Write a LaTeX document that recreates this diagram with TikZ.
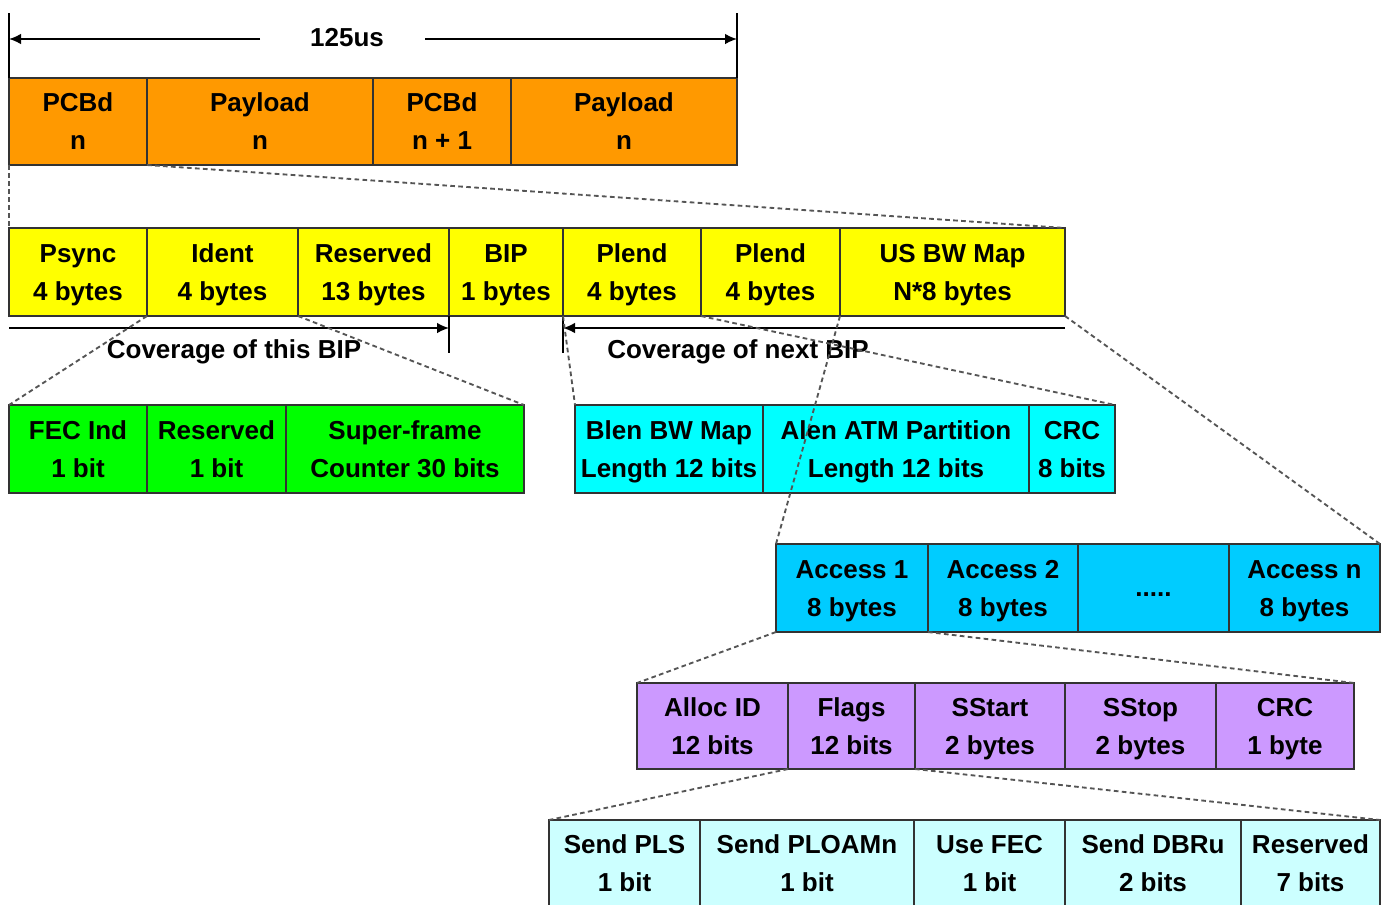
\documentclass[tikz,border=0pt]{standalone}
\usepackage{fontspec}
\setmainfont{Liberation Sans}
\usetikzlibrary{arrows.meta}
\definecolor{corange}{HTML}{FF9900}
\definecolor{cyellow}{HTML}{FFFF00}
\definecolor{cgreen}{HTML}{00FF00}
\definecolor{ccyan}{HTML}{00FFFF}
\definecolor{caccess}{HTML}{00CCFF}
\definecolor{cpurple}{HTML}{CC99FF}
\definecolor{clight}{HTML}{CCFFFF}
\definecolor{cborder}{HTML}{333333}
\definecolor{cdash}{HTML}{555555}
\newcommand\cellbox[7]{\node[cell,fill=#6,minimum width={(#4-#2)*0.75pt},minimum height={(#5-#3)*0.75pt}] (#1) at ({(#2+#4)/2},{(#3+#5)/2}) {#7};}
\tikzset{
  cell/.style={draw=cborder,line width=1.1pt,inner sep=0pt,outer sep=0pt,align=center,
    text height=42.5pt,text depth=0pt,
    font=\fontsize{19.5}{28.5}\selectfont\bfseries},
  zoomline/.style={draw=cdash,line width=1.4pt,dash pattern=on 3.5pt off 2.5pt},
  dim/.style={draw=black,line width=1.3pt},
  dimarrow/.style={dim,-{Latex[length=9pt,width=8pt]}},
  lbl/.style={font=\fontsize{19.5}{24}\selectfont\bfseries,inner sep=0pt}
}
\begin{document}
\begin{tikzpicture}[x=0.75pt,y=-0.75pt]
\useasboundingbox (0,0) rectangle (1383,904);
% row 1
\cellbox{pcbn}{9}{78}{147}{165}{corange}{PCBd\\n}
\cellbox{payn}{147}{78}{373}{165}{corange}{Payload\\n}
\cellbox{pcbm}{373}{78}{511}{165}{corange}{PCBd\\n + 1}
\cellbox{payb}{511}{78}{737}{165}{corange}{Payload\\n}
% 125us
\coordinate (tl) at (9,13);
\coordinate (tr) at (737,13);
\coordinate (al) at (9,39);
\coordinate (ar) at (737,39);
\node[lbl] (t125) at (347,38) {125us};
\draw[dim] (tl) -- (pcbn.north west);
\draw[dim] (tr) -- (payb.north east);
\coordinate (a1s) at (260,39);
\coordinate (a2s) at (425,39);
\draw[dimarrow] (a1s) -- (al);
\draw[dimarrow] (a2s) -- (ar);
% row 2
\cellbox{psync}{9}{228}{147}{316}{cyellow}{Psync\\4 bytes}
\cellbox{ident}{147}{228}{298}{316}{cyellow}{Ident\\4 bytes}
\cellbox{resv}{298}{228}{449}{316}{cyellow}{Reserved\\13 bytes}
\cellbox{bip}{449}{228}{563}{316}{cyellow}{BIP\\1 bytes}
\cellbox{plenda}{563}{228}{701}{316}{cyellow}{Plend\\4 bytes}
\cellbox{plendb}{701}{228}{840}{316}{cyellow}{Plend\\4 bytes}
\cellbox{usbw}{840}{228}{1065}{316}{cyellow}{US BW Map\\N*8 bytes}
\draw[zoomline] (pcbn.south west) -- (psync.north west);
\draw[zoomline] (pcbn.south east) -- (usbw.north east);
% coverage arrows
\coordinate (c1a) at (9,328);
\coordinate (c1b) at (449,328);
\coordinate (c1t) at (449,353);
\coordinate (c2a) at (1065,328);
\coordinate (c2b) at (563,328);
\coordinate (c2t) at (563,353);
\draw[dim] (bip.south west) -- (c1t);
\draw[dim] (bip.south east) -- (c2t);
\draw[dimarrow] (c1a) -- (c1b);
\draw[dimarrow] (c2a) -- (c2b);
\node[lbl] (cov1) at (234,352) {Coverage of this BIP};
\node[lbl] (cov2) at (738,352) {Coverage of next BIP};
% row 3 left
\cellbox{fec}{9}{405}{147}{493}{cgreen}{FEC Ind\\1 bit}
\cellbox{resg}{147}{405}{286}{493}{cgreen}{Reserved\\1 bit}
\cellbox{sfc}{286}{405}{524}{493}{cgreen}{Super-frame\\Counter 30 bits}
\draw[zoomline] (ident.south west) -- (fec.north west);
\draw[zoomline] (ident.south east) -- (sfc.north east);
% row 3 right
\cellbox{blen}{575}{405}{763}{493}{ccyan}{Blen BW Map\\Length 12 bits}
\cellbox{alen}{763}{405}{1029}{493}{ccyan}{Alen ATM Partition\\Length 12 bits}
\cellbox{crca}{1029}{405}{1115}{493}{ccyan}{CRC\\8 bits}
\draw[zoomline] (plenda.south west) -- (blen.north west);
\draw[zoomline] (plenda.south east) -- (crca.north east);
% access row
\cellbox{acc1}{776}{544}{928}{632}{caccess}{Access 1\\8 bytes}
\cellbox{acc2}{928}{544}{1078}{632}{caccess}{Access 2\\8 bytes}
\cellbox{accd}{1078}{544}{1229}{632}{caccess,text height=12pt,text depth=0pt}{.....}
\cellbox{accn}{1229}{544}{1380}{632}{caccess}{Access n\\8 bytes}
\draw[zoomline] (usbw.south west) -- (acc1.north west);
\draw[zoomline] (usbw.south east) -- (accn.north east);
% purple row
\cellbox{alloc}{637}{683}{788}{769}{cpurple}{Alloc ID\\12 bits}
\cellbox{flags}{788}{683}{915}{769}{cpurple}{Flags\\12 bits}
\cellbox{sstart}{915}{683}{1065}{769}{cpurple}{SStart\\2 bytes}
\cellbox{sstop}{1065}{683}{1216}{769}{cpurple}{SStop\\2 bytes}
\cellbox{crcb}{1216}{683}{1354}{769}{cpurple}{CRC\\1 byte}
\draw[zoomline] (acc1.south west) -- (alloc.north west);
\draw[zoomline] (acc1.south east) -- (crcb.north east);
% bottom row
\cellbox{spls}{549}{820}{700}{906}{clight}{Send PLS\\1 bit}
\cellbox{sploam}{700}{820}{914}{906}{clight}{Send PLOAMn\\1 bit}
\cellbox{ufec}{914}{820}{1065}{906}{clight}{Use FEC\\1 bit}
\cellbox{sdbru}{1065}{820}{1241}{906}{clight}{Send DBRu\\2 bits}
\cellbox{resb}{1241}{820}{1380}{906}{clight}{Reserved\\7 bits}
\draw[zoomline] (flags.south west) -- (spls.north west);
\draw[zoomline] (flags.south east) -- (resb.north east);
\end{tikzpicture}
\end{document}
